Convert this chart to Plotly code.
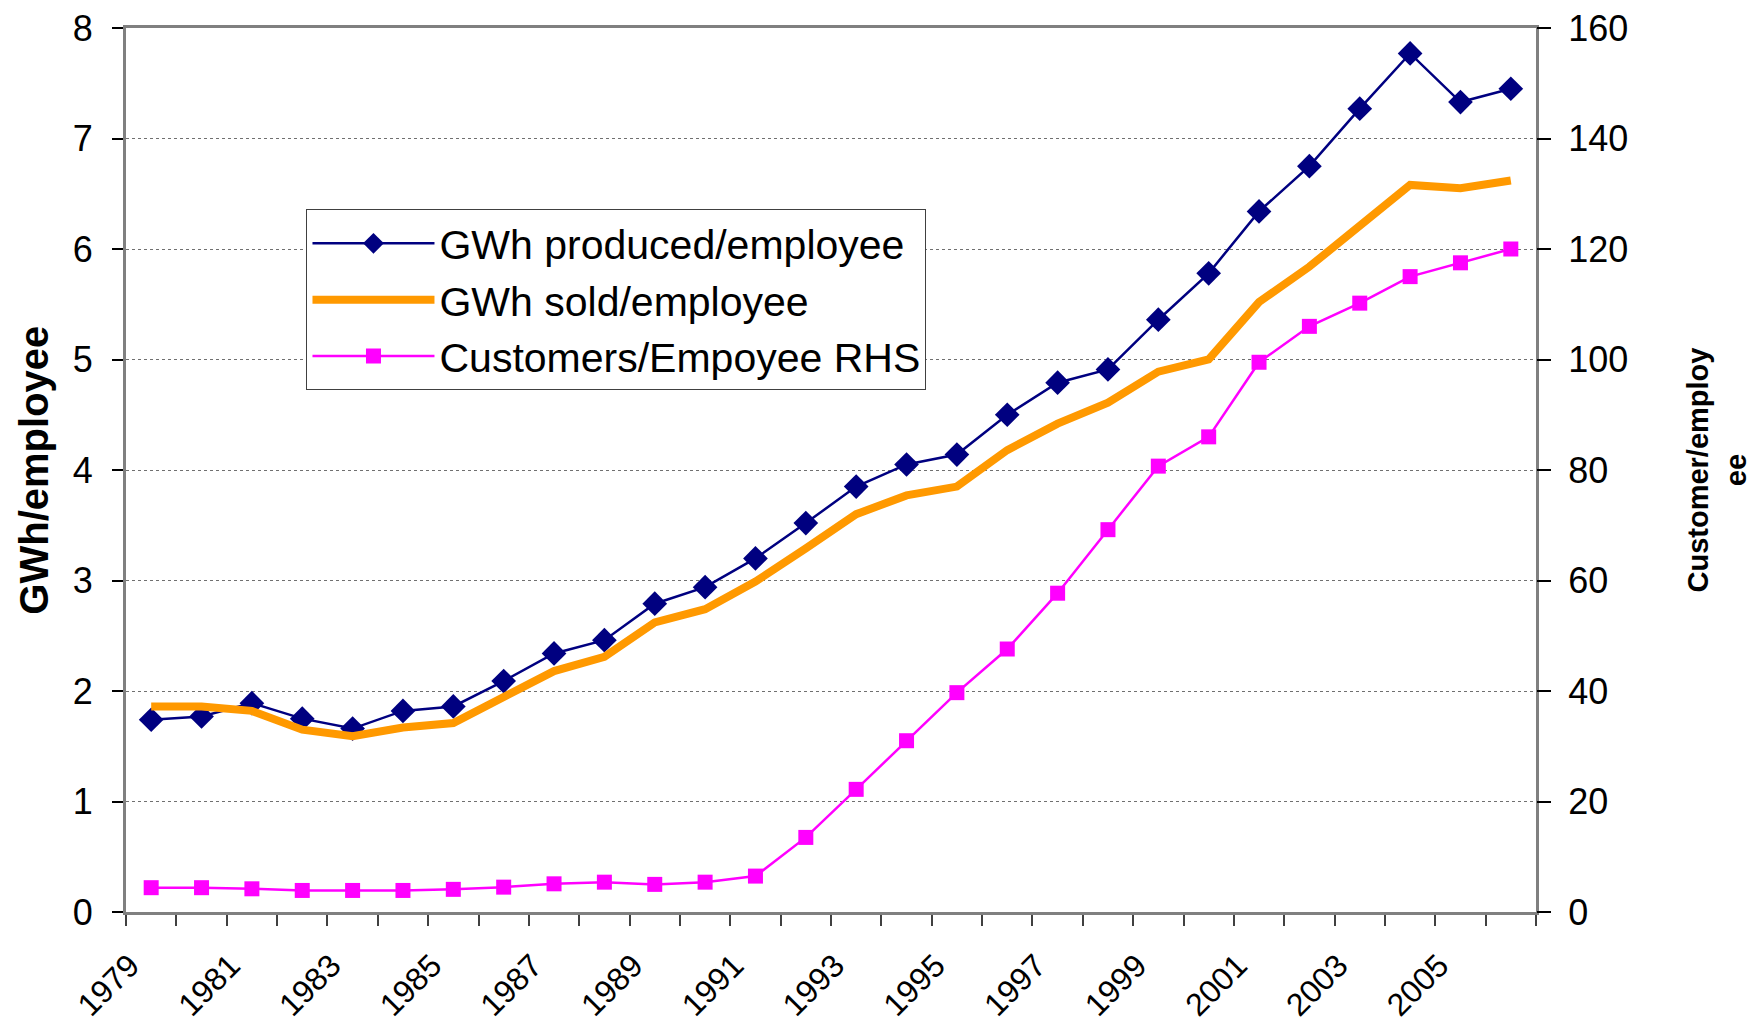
import plotly.graph_objects as go

years = list(range(1979, 2007))
gwh_produced = [1.74, 1.77, 1.89, 1.75, 1.66, 1.82, 1.86, 2.09, 2.34, 2.46,
                2.79, 2.94, 3.20, 3.52, 3.85, 4.05, 4.14, 4.50, 4.79, 4.91,
                5.36, 5.78, 6.34, 6.75, 7.27, 7.77, 7.33, 7.45]
gwh_sold = [1.86, 1.86, 1.82, 1.65, 1.59, 1.67, 1.71, 1.95, 2.18, 2.31,
            2.62, 2.74, 2.99, 3.29, 3.60, 3.77, 3.85, 4.18, 4.42, 4.61,
            4.89, 5.00, 5.52, 5.84, 6.20, 6.58, 6.55, 6.62]
customers = [4.4, 4.4, 4.2, 3.9, 3.9, 3.9, 4.1, 4.5, 5.1, 5.4,
             5.0, 5.4, 6.5, 13.5, 22.2, 31.0, 39.7, 47.6, 57.7, 69.2,
             80.7, 86.0, 99.5, 106.0, 110.2, 115.0, 117.5, 120.0]
tick_years = list(range(1979, 2006, 2))
tick_labels = [str(y) for y in tick_years]

FONT = "Liberation Sans, Arial, sans-serif"
LABEL_SHIFT = 0.42  # label anchor offset (category axis labels sit left of centre)

fig = go.Figure()
fig.add_trace(go.Scatter(
    x=years, y=gwh_produced, name="GWh produced/employee", mode="lines+markers",
    line=dict(color="#000080", width=2.5),
    marker=dict(symbol="diamond", size=19, color="#000080"),
    legendgroup="a"))
fig.add_trace(go.Scatter(
    x=years, y=gwh_sold, name="GWh sold/employee", mode="lines",
    line=dict(color="#FF9900", width=8),
    legendgroup="b"))
fig.add_trace(go.Scatter(
    x=years, y=customers, name="Customers/Empoyee RHS", mode="lines+markers",
    line=dict(color="#FF00FF", width=2.5),
    marker=dict(symbol="square", size=15, color="#FF00FF"),
    yaxis="y2", legendgroup="c"))

fig.update_layout(
    width=1750, height=1015,
    margin=dict(l=118, r=222, t=20, b=111, autoexpand=False),
    paper_bgcolor="white", plot_bgcolor="white",
    font=dict(family=FONT, color="black", size=37),
    showlegend=True,
    legend=dict(x=0.128, y=0.795, xanchor="left", yanchor="top",
                bgcolor="white", bordercolor="#404040", borderwidth=1,
                font=dict(size=41, family=FONT), tracegroupgap=0,
                itemwidth=122),
    xaxis=dict(
        range=[1978.5, 2006.5], tickmode="array",
        tickvals=[y - LABEL_SHIFT for y in tick_years],
        ticktext=tick_labels, tickangle=-45, ticks="",
        showgrid=False, zeroline=False, automargin=False,
        showline=True, linecolor="#808080", linewidth=3, mirror=True,
        tickfont=dict(size=32), ticklabelstandoff=19,
        ticklabeloverflow="allow",
        minor=dict(ticks="outside", tick0=1978.5, dtick=1, ticklen=11,
                   tickcolor="#404040", tickwidth=1.5, showgrid=False),
    ),
    yaxis=dict(
        range=[0, 8], dtick=1, ticks="outside", ticklen=11, tickcolor="black",
        tickwidth=1.5, showgrid=True, gridcolor="#707070", griddash="dot",
        gridwidth=1, zeroline=False, automargin=False,
        showline=True, linecolor="#808080", linewidth=3, mirror=True,
        tickfont=dict(size=36), ticklabelstandoff=12,
        ticklabeloverflow="allow",
    ),
    yaxis2=dict(
        range=[0, 160], dtick=20, overlaying="y", side="right",
        ticks="outside", ticklen=14, tickcolor="black", tickwidth=1.5,
        showgrid=False, zeroline=False, showline=False, automargin=False,
        tickfont=dict(size=36), ticklabelstandoff=10,
        ticklabeloverflow="allow",
        title=dict(text="<b>Customer/employ<br>ee</b>", font=dict(size=29), standoff=60),
    ),
    annotations=[dict(
        text="<b>GWh/employee</b>", textangle=-90, showarrow=False,
        xref="paper", yref="paper", x=-0.0655, y=0.5,
        xanchor="center", yanchor="middle", font=dict(size=40, family=FONT),
    )],
)

fig.write_html("out.html")
